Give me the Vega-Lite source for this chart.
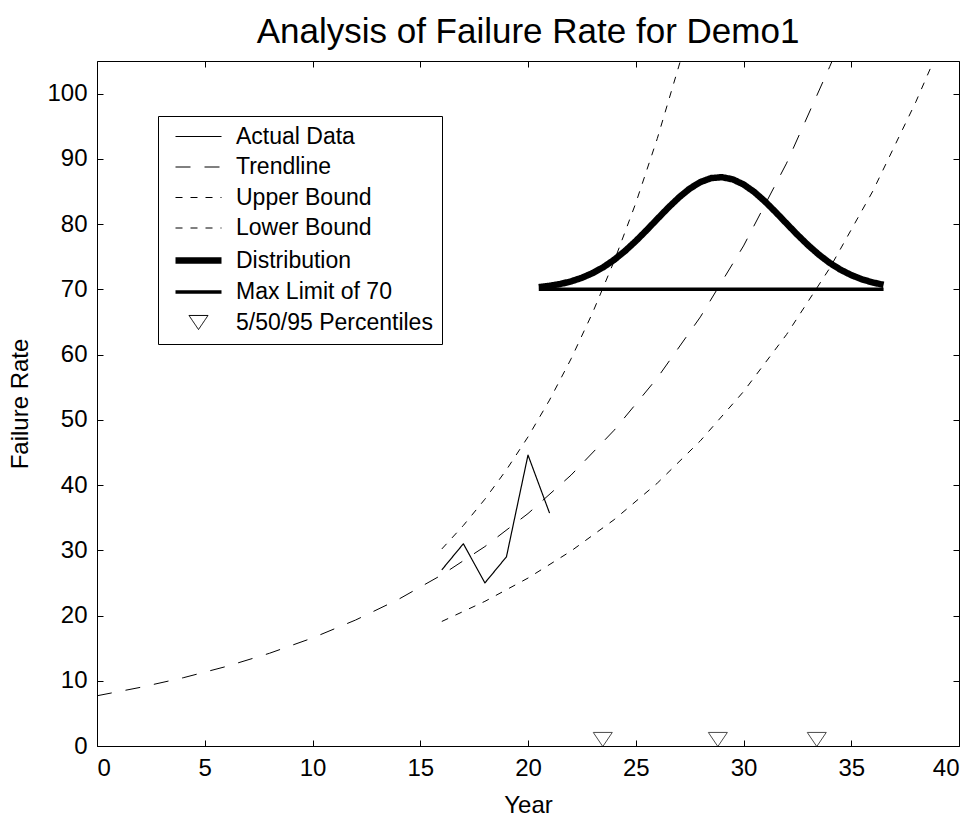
{
  "$schema": "https://vega.github.io/schema/vega-lite/v6.json",
  "autosize": "none",
  "width": 862,
  "height": 685,
  "padding": {"left": 97, "top": 61, "right": 17, "bottom": 72},
  "background": "white",
  "title": {"text": "Analysis of Failure Rate for Demo1", "fontSize": 35, "fontWeight": "normal", "font": "Liberation Sans", "color": "black", "anchor": "middle", "offset": 11},
  "config": {
    "font": "Liberation Sans",
    "view": {"stroke": "black", "strokeWidth": 1},
    "axis": {"grid": false, "domainColor": "black", "tickColor": "black", "labelColor": "black", "titleColor": "black", "labelFontSize": 24, "titleFontSize": 24, "titleFontWeight": "normal", "labelFont": "Liberation Sans", "titleFont": "Liberation Sans"}
  },
  "datasets": {
    "lines": [
      {"series": "Actual Data", "year": 16, "rate": 27},
      {"series": "Actual Data", "year": 17, "rate": 31},
      {"series": "Actual Data", "year": 18, "rate": 25},
      {"series": "Actual Data", "year": 19, "rate": 29},
      {"series": "Actual Data", "year": 20, "rate": 44.6},
      {"series": "Actual Data", "year": 21, "rate": 35.7},
      {"series": "Trendline", "year": 0, "rate": 7.7},
      {"series": "Trendline", "year": 2, "rate": 8.98},
      {"series": "Trendline", "year": 4, "rate": 10.46},
      {"series": "Trendline", "year": 6, "rate": 12.19},
      {"series": "Trendline", "year": 8, "rate": 14.21},
      {"series": "Trendline", "year": 10, "rate": 16.56},
      {"series": "Trendline", "year": 12, "rate": 19.31},
      {"series": "Trendline", "year": 14, "rate": 22.5},
      {"series": "Trendline", "year": 16, "rate": 26.23},
      {"series": "Trendline", "year": 18, "rate": 30.57},
      {"series": "Trendline", "year": 20, "rate": 35.63},
      {"series": "Trendline", "year": 22, "rate": 41.53},
      {"series": "Trendline", "year": 24, "rate": 48.41},
      {"series": "Trendline", "year": 26, "rate": 56.42},
      {"series": "Trendline", "year": 28, "rate": 65.77},
      {"series": "Trendline", "year": 30, "rate": 76.65},
      {"series": "Trendline", "year": 32, "rate": 89.34},
      {"series": "Trendline", "year": 34, "rate": 104.13},
      {"series": "Trendline", "year": 34.1, "rate": 104.9},
      {"series": "Upper Bound", "year": 16, "rate": 30.2},
      {"series": "Upper Bound", "year": 17, "rate": 33.8},
      {"series": "Upper Bound", "year": 18, "rate": 37.83},
      {"series": "Upper Bound", "year": 19, "rate": 42.34},
      {"series": "Upper Bound", "year": 20, "rate": 47.38},
      {"series": "Upper Bound", "year": 21, "rate": 53.03},
      {"series": "Upper Bound", "year": 22, "rate": 59.35},
      {"series": "Upper Bound", "year": 23, "rate": 66.43},
      {"series": "Upper Bound", "year": 24, "rate": 74.34},
      {"series": "Upper Bound", "year": 25, "rate": 83.2},
      {"series": "Upper Bound", "year": 26, "rate": 93.12},
      {"series": "Upper Bound", "year": 27, "rate": 104.22},
      {"series": "Upper Bound", "year": 27.07, "rate": 105},
      {"series": "Lower Bound", "year": 16, "rate": 19.09},
      {"series": "Lower Bound", "year": 18, "rate": 22.17},
      {"series": "Lower Bound", "year": 20, "rate": 25.74},
      {"series": "Lower Bound", "year": 22, "rate": 29.89},
      {"series": "Lower Bound", "year": 24, "rate": 34.7},
      {"series": "Lower Bound", "year": 26, "rate": 40.29},
      {"series": "Lower Bound", "year": 28, "rate": 46.79},
      {"series": "Lower Bound", "year": 30, "rate": 54.32},
      {"series": "Lower Bound", "year": 32, "rate": 63.08},
      {"series": "Lower Bound", "year": 34, "rate": 73.24},
      {"series": "Lower Bound", "year": 36, "rate": 85.05},
      {"series": "Lower Bound", "year": 38, "rate": 98.75},
      {"series": "Lower Bound", "year": 38.8, "rate": 104.84},
      {"series": "Distribution", "year": 20.5, "rate": 70.34},
      {"series": "Distribution", "year": 21, "rate": 70.54},
      {"series": "Distribution", "year": 21.5, "rate": 70.82},
      {"series": "Distribution", "year": 22, "rate": 71.22},
      {"series": "Distribution", "year": 22.5, "rate": 71.77},
      {"series": "Distribution", "year": 23, "rate": 72.49},
      {"series": "Distribution", "year": 23.5, "rate": 73.4},
      {"series": "Distribution", "year": 24, "rate": 74.53},
      {"series": "Distribution", "year": 24.5, "rate": 75.87},
      {"series": "Distribution", "year": 25, "rate": 77.39},
      {"series": "Distribution", "year": 25.5, "rate": 79.05},
      {"series": "Distribution", "year": 26, "rate": 80.78},
      {"series": "Distribution", "year": 26.5, "rate": 82.49},
      {"series": "Distribution", "year": 27, "rate": 84.07},
      {"series": "Distribution", "year": 27.5, "rate": 85.43},
      {"series": "Distribution", "year": 28, "rate": 86.44},
      {"series": "Distribution", "year": 28.5, "rate": 87.05},
      {"series": "Distribution", "year": 29, "rate": 87.19},
      {"series": "Distribution", "year": 29.5, "rate": 86.86},
      {"series": "Distribution", "year": 30, "rate": 86.08},
      {"series": "Distribution", "year": 30.5, "rate": 84.92},
      {"series": "Distribution", "year": 31, "rate": 83.46},
      {"series": "Distribution", "year": 31.5, "rate": 81.81},
      {"series": "Distribution", "year": 32, "rate": 80.08},
      {"series": "Distribution", "year": 32.5, "rate": 78.37},
      {"series": "Distribution", "year": 33, "rate": 76.76},
      {"series": "Distribution", "year": 33.5, "rate": 75.31},
      {"series": "Distribution", "year": 34, "rate": 74.05},
      {"series": "Distribution", "year": 34.5, "rate": 73.01},
      {"series": "Distribution", "year": 35, "rate": 72.18},
      {"series": "Distribution", "year": 35.5, "rate": 71.53},
      {"series": "Distribution", "year": 36, "rate": 71.05},
      {"series": "Distribution", "year": 36.5, "rate": 70.69},
      {"series": "Max Limit of 70", "year": 20.5, "rate": 70},
      {"series": "Max Limit of 70", "year": 36.5, "rate": 70}
    ],
    "pct": [
      {"series": "5/50/95 Percentiles", "year": 23.47, "rate": 1},
      {"series": "5/50/95 Percentiles", "year": 28.81, "rate": 1},
      {"series": "5/50/95 Percentiles", "year": 33.4, "rate": 1}
    ]
  },
  "layer": [
    {
      "data": {"name": "lines"},
      "mark": {"type": "line", "color": "black", "clip": true, "strokeCap": "butt", "strokeJoin": "round"},
      "encoding": {
        "x": {"field": "year", "type": "quantitative", "scale": {"domain": [0, 40], "nice": false, "zero": false},
              "axis": {"orient": "bottom", "title": "Year", "values": [0,5,10,15,20,25,30,35,40], "tickSize": -6, "labelPadding": 16, "titlePadding": 13, "domain": false}},
        "y": {"field": "rate", "type": "quantitative", "scale": {"domain": [0, 105], "nice": false, "zero": false},
              "axis": {"orient": "left", "title": "Failure Rate", "values": [0,10,20,30,40,50,60,70,80,90,100], "tickSize": -6, "labelPadding": 16, "titlePadding": 14, "domain": false}},
        "strokeDash": {"field": "series", "type": "nominal",
          "scale": {"domain": ["Actual Data","Trendline","Upper Bound","Lower Bound","Distribution","Max Limit of 70","5/50/95 Percentiles"],
                    "range": [[1,0],[15,14],[7,8],[7,8],[1,0],[1,0],[1,0]]},
          "legend": {"title": null, "orient": "none", "legendX": 61, "legendY": 55, "strokeColor": "black", "padding": 9, "labelFontSize": 23, "labelColor": "black", "labelFont": "Liberation Sans", "labelLimit": 0, "symbolSize": 256, "symbolOffset": 20, "labelOffset": 26, "rowPadding": 6.5, "symbolStrokeColor": "black", "symbolFillColor": "transparent", "cornerRadius": 0}},
        "strokeWidth": {"field": "series", "type": "nominal",
          "scale": {"type": "ordinal", "domain": ["Actual Data","Trendline","Upper Bound","Lower Bound","Distribution","Max Limit of 70","5/50/95 Percentiles"],
                    "range": [1.2,1,1,1,6.5,3.5,1]}}
      }
    },
    {
      "data": {"name": "pct"},
      "mark": {"type": "point", "filled": false, "color": "black", "size": 256, "strokeWidth": 1, "clip": false},
      "encoding": {
        "x": {"field": "year", "type": "quantitative",
              "axis": {"orient": "top", "title": null, "labels": false, "values": [0,5,10,15,20,25,30,35,40], "tickSize": -6, "domain": false}},
        "y": {"field": "rate", "type": "quantitative",
              "axis": {"orient": "right", "title": null, "labels": false, "values": [0,10,20,30,40,50,60,70,80,90,100], "tickSize": -6, "domain": false}},
        "shape": {"field": "series", "type": "nominal",
          "scale": {"domain": ["Actual Data","Trendline","Upper Bound","Lower Bound","Distribution","Max Limit of 70","5/50/95 Percentiles"],
                    "range": ["M-2.875,0L2.875,0","M-2.875,0L2.875,0","M-2.875,0L2.875,0","M-2.875,0L2.875,0","M-2.875,0L2.875,0","M-2.875,0L2.875,0","M-1.19,-0.88L1.19,-0.88L0,0.88Z"]}}
      }
    }
  ],
  "resolve": {"axis": {"x": "independent", "y": "independent"}}
}
